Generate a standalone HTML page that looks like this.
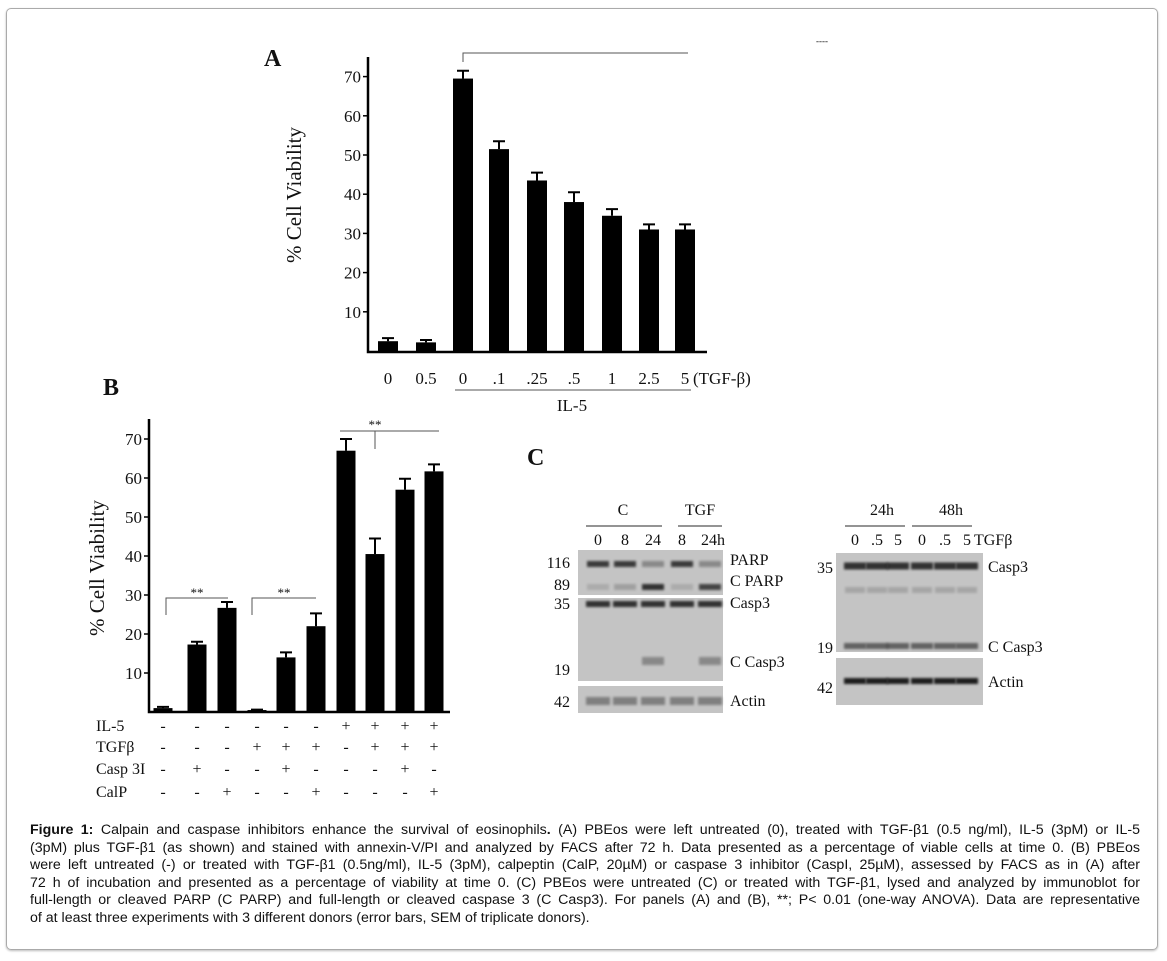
<!DOCTYPE html>
<html><head><meta charset="utf-8">
<style>
body{margin:0;background:#fff;width:1167px;height:961px;overflow:hidden;position:relative;font-family:"Liberation Sans",sans-serif}
#frame{position:absolute;left:6px;top:8px;width:1150px;height:940px;border:1px solid #aaa;border-radius:5px;box-shadow:0 1px 2px #bbb}
#cap{position:absolute;left:30px;top:822px;width:1110px;font-size:14.2px;line-height:17.5px;color:#111}
#cap div{text-align:justify;text-align-last:justify;white-space:nowrap}
#cap div.last{text-align-last:left}
svg{position:absolute;left:0;top:0}
svg text{font-family:"Liberation Serif",serif;fill:#111}
</style></head><body>
<div id="frame"></div>
<svg id="fig" width="1167" height="961">
<defs><filter id="bl" x="-20%" y="-100%" width="140%" height="300%"><feGaussianBlur stdDeviation="1.4"/></filter></defs>
<g id="pa"></g>
<g id="pb"></g>
<g id="pc"></g>
</svg>
<div id="cap">
<div><b>Figure 1:</b> Calpain and caspase inhibitors enhance the survival of eosinophils<b>.</b> (A) PBEos were left untreated (0), treated with TGF-β1 (0.5 ng/ml), IL-5 (3pM) or IL-5</div>
<div>(3pM) plus TGF-β1 (as shown) and stained with annexin-V/PI and analyzed by FACS after 72 h. Data presented as a percentage of viable cells at time 0. (B) PBEos</div>
<div>were left untreated (-) or treated with TGF-β1 (0.5ng/ml), IL-5 (3pM), calpeptin (CalP, 20µM) or caspase 3 inhibitor (CaspI, 25µM), assessed by FACS as in (A) after</div>
<div>72 h of incubation and presented as a percentage of viability at time 0. (C) PBEos were untreated (C) or treated with TGF-β1, lysed and analyzed by immunoblot for</div>
<div>full-length or cleaved PARP (C PARP) and full-length or cleaved caspase 3 (C Casp3). For panels (A) and (B), **; P&lt; 0.01 (one-way ANOVA). Data are representative</div>
<div class="last">of at least three experiments with 3 different donors (error bars, SEM of triplicate donors).</div>
</div>
<script>
const aCats=["0","0.5","0",".1",".25",".5","1","2.5","5"];
const aVals=[2.5,2.2,69.5,51.5,43.5,38,34.5,31,31];
const aErr=[0.8,0.6,2,2,2,2.5,1.7,1.3,1.3];
const bVals=[1,17.3,26.7,0.5,14,22,67,40.5,57,61.7];
const bErr=[0.3,0.7,1.5,0.1,1.3,3.3,3,4,2.8,1.8];
const bIL5=["-","-","-","-","-","-","+","+","+","+"];
const bTGF=["-","-","-","+","+","+","-","+","+","+"];
const bCasp=["-","+","-","-","+","-","-","-","+","-"];
const bCalP=["-","-","+","-","-","+","-","-","-","+"];
const ticks=[10,20,30,40,50,60,70];
const NS="http://www.w3.org/2000/svg";
function mk(p,t,a,txt){const e=document.createElementNS(NS,t);for(const k in a)e.setAttribute(k,a[k]);if(txt!==undefined)e.textContent=txt;p.appendChild(e);return e;}

// Panel A
const pa=document.getElementById('pa');
const aY=v=>351-v*3.92, aX=i=>[388,426,463,499,537,574,612,649,685][i];
let t=mk(pa,'text',{x:264,y:66,'font-size':24,'font-weight':'bold'},'A');

let ax=mk(pa,'path',{d:'M368,57V352H707',stroke:'#000','stroke-width':2.5,fill:'none'});

ticks.forEach(v=>{const l=mk(pa,'text',{x:361,y:aY(v)+6,'font-size':17,'text-anchor':'end'},v);

mk(pa,'line',{x1:363,x2:368,y1:aY(v),y2:aY(v),stroke:'#000','stroke-width':1.5});});
t=mk(pa,'text',{x:0,y:0,'font-size':21,'text-anchor':'middle',transform:'translate(301,195) rotate(-90)'},'% Cell Viability');

aVals.forEach((v,i)=>{const x=aX(i);
const r=mk(pa,'rect',{x:x-10,y:aY(v),width:20,height:351-aY(v),fill:'#000'});

mk(pa,'path',{d:`M${x},${aY(v)}V${aY(v+aErr[i])}M${x-6},${aY(v+aErr[i])}H${x+6}`,stroke:'#000','stroke-width':2});
const l=mk(pa,'text',{x:x,y:384,'font-size':17,'text-anchor':'middle'},aCats[i]);
});
mk(pa,'text',{x:693,y:384,'font-size':17},'(TGF-β)');
mk(pa,'path',{d:'M463,62V53H688',stroke:'#555','stroke-width':1,fill:'none'});
mk(pa,'line',{x1:455,x2:691,y1:390,y2:390,stroke:'#555','stroke-width':1});
mk(pa,'text',{x:572,y:411,'font-size':17,'text-anchor':'middle'},'IL-5');
mk(pa,'text',{x:816,y:44,'font-size':9},'----');

// Panel B
const pb=document.getElementById('pb');
const bY=v=>712-v*3.9, bX=i=>[163,197,227,257,286,316,346,375,405,434][i];
t=mk(pb,'text',{x:103,y:395,'font-size':24,'font-weight':'bold'},'B');

ax=mk(pb,'path',{d:'M149,419V712H450',stroke:'#000','stroke-width':2.5,fill:'none'});

ticks.forEach(v=>{const l=mk(pb,'text',{x:142,y:bY(v)+6,'font-size':17,'text-anchor':'end'},v);

mk(pb,'line',{x1:144,x2:149,y1:bY(v),y2:bY(v),stroke:'#000','stroke-width':1.5});});
t=mk(pb,'text',{x:0,y:0,'font-size':21,'text-anchor':'middle',transform:'translate(104,568) rotate(-90)'},'% Cell Viability');

const rows=[["IL-5",bIL5,731],["TGFβ",bTGF,752],["Casp 3I",bCasp,774],["CalP",bCalP,797]];
rows.forEach(r=>{const l=mk(pb,'text',{x:96,y:r[2],'font-size':16},r[0]);
});
bVals.forEach((v,i)=>{const x=bX(i);
const r=mk(pb,'rect',{x:x-9.5,y:bY(v),width:19,height:712-bY(v),fill:'#000'});

mk(pb,'path',{d:`M${x},${bY(v)}V${bY(v+bErr[i])}M${x-6},${bY(v+bErr[i])}H${x+6}`,stroke:'#000','stroke-width':2});
rows.forEach(rw=>mk(pb,'text',{x:x,y:rw[2],'font-size':16,'text-anchor':'middle'},rw[1][i]));});
mk(pb,'path',{d:'M166,615V598H228M252,615V598H316M340,431H439M375,431V449',stroke:'#555','stroke-width':1,fill:'none'});
mk(pb,'text',{x:197,y:597,'font-size':13,'text-anchor':'middle'},'**');
mk(pb,'text',{x:284,y:597,'font-size':13,'text-anchor':'middle'},'**');
mk(pb,'text',{x:375,y:429,'font-size':13,'text-anchor':'middle'},'**');

// Panel C
const pc=document.getElementById('pc');
t=mk(pc,'text',{x:527,y:465,'font-size':24,'font-weight':'bold'},'C');

function blot(x,y,w,h,name){const r=mk(pc,'rect',{x:x,y:y,width:w,height:h,fill:'#c4c4c4'});
}
function band(cx,y,w,op,h){h=h||6;mk(pc,'rect',{x:cx-w/2,y:y-h/2,width:w,height:h,fill:'#000',opacity:op,filter:'url(#bl)'});}
function txt(x,y,s,a,sz){mk(pc,'text',{x:x,y:y,'font-size':sz||16,'text-anchor':a||'start'},s);}
const lL=[598,625,653,682,710];
blot(578,550,145,45,'parp-blot');blot(578,598,145,83,'casp3-blot-left');blot(578,686,145,27,'actin-blot-left');
lL.forEach((x,i)=>{band(x,564,22,(i==2||i==4)?0.3:0.7);band(x,587,22,[0.12,0.18,0.75,0.12,0.65][i]);
band(x,604,24,0.75);band(x,701,24,0.35,8);if(i==2||i==4)band(x,661,22,0.3,8);});
txt(623,515,'C','middle');txt(700,515,'TGF','middle');
mk(pc,'path',{d:'M586,526H662M678,526H722',stroke:'#555','stroke-width':1.2});
["0","8","24","8","24h"].forEach((s,i)=>txt(lL[i]+(i==4?3:0),545,s,'middle'));
[["116",568],["89",590],["35",609],["19",675],["42",707]].forEach(a=>txt(570,a[1],a[0],'end'));
[["PARP",565],["C PARP",586],["Casp3",608],["C Casp3",667],["Actin",706]].forEach(a=>txt(730,a[1],a[0]));
const lR=[855,877,898,922,945,967];
blot(836,553,147,99,'casp3-blot-right');blot(836,658,147,47,'actin-blot-right');
lR.forEach(x=>{band(x,566,22,0.75,7);band(x,590,20,0.15);band(x,646,22,0.5);band(x,681,22,0.85);});
txt(882,515,'24h','middle');txt(951,515,'48h','middle');
mk(pc,'path',{d:'M845,526H905M912,526H972',stroke:'#555','stroke-width':1.2});
["0",".5","5","0",".5","5"].forEach((s,i)=>txt(lR[i],545,s,'middle'));
txt(974,545,'TGFβ');
[["35",573],["19",653],["42",693]].forEach(a=>txt(833,a[1],a[0],'end'));
[["Casp3",572],["C Casp3",652],["Actin",687]].forEach(a=>txt(988,a[1],a[0]));
</script>
</body></html>
